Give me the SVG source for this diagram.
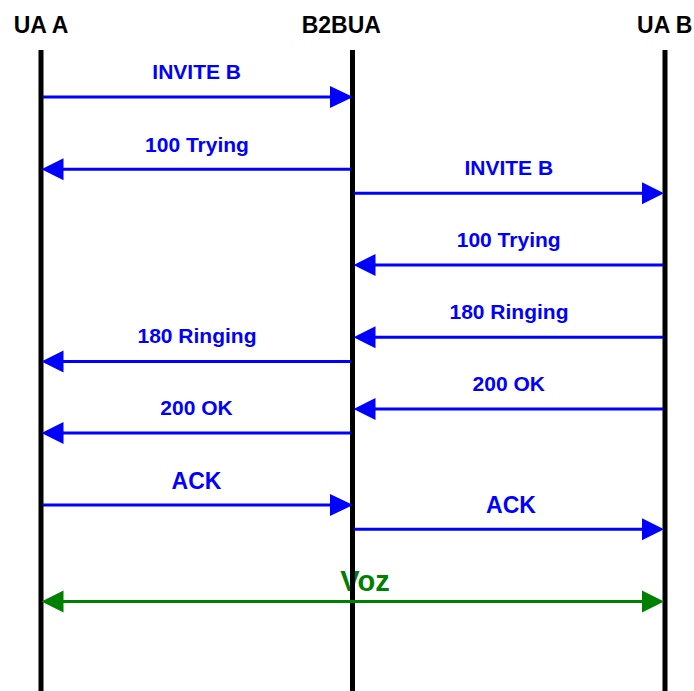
<svg xmlns="http://www.w3.org/2000/svg" width="694" height="691" viewBox="0 0 694 691">
<style>
.hdr{font-family:"Liberation Sans",Arial,sans-serif;font-weight:bold;font-size:23px;fill:#000;text-anchor:middle}
.life{stroke:#000;stroke-width:5}
.msg{stroke:#0000FF;stroke-width:3;fill:none}
.head{fill:#0000FF}
.lbl{font-family:"Liberation Sans",Arial,sans-serif;font-weight:bold;font-size:21px;fill:#0000FF;text-anchor:middle}
.ack{font-size:23px}
.voz{stroke:#008000;stroke-width:3;fill:none}
.vhead{fill:#008000}
.vlbl{font-family:"Liberation Sans",Arial,sans-serif;font-weight:bold;font-size:29px;fill:#008000;text-anchor:middle}
</style>
<rect width="694" height="691" fill="#fff"/>
<g id="labels">
<text class="lbl" x="196.7" y="79.3">INVITE B</text>
<text class="lbl" x="197" y="151.7">100 Trying</text>
<text class="lbl" x="508.8" y="175">INVITE B</text>
<text class="lbl" x="508.7" y="246.7">100 Trying</text>
<text class="lbl" x="509" y="319.3">180 Ringing</text>
<text class="lbl" x="197" y="343.3">180 Ringing</text>
<text class="lbl" x="508.8" y="390.7">200 OK</text>
<text class="lbl" x="196.5" y="415">200 OK</text>
<text class="lbl ack" x="196.5" y="489">ACK</text>
<text class="lbl ack" x="511" y="512.7">ACK</text>
<text class="vlbl" x="365" y="590.7">Voz</text>
</g>
<g id="uaA">
<line class="life" x1="41" y1="50" x2="41" y2="691"/>
<text class="hdr" x="41" y="33">UA A</text>
</g>
<g id="b2bua">
<line class="life" x1="352.5" y1="50" x2="352.5" y2="691"/>
<text class="hdr" x="341.3" y="33">B2BUA</text>
</g>
<g id="uaB">
<line class="life" x1="665" y1="50" x2="665" y2="691"/>
<text class="hdr" x="664.8" y="33">UA B</text>
</g>
<g id="connectors">
<line class="msg" x1="43" y1="97" x2="332" y2="97"/>
<polygon class="head" points="330,86 353,97 330,108"/>
<line class="msg" x1="351" y1="169.3" x2="62" y2="169.3"/>
<polygon class="head" points="63.5,158.3 41.5,169.3 63.5,180.3"/>
<line class="msg" x1="354" y1="193.3" x2="644" y2="193.3"/>
<polygon class="head" points="642,182.3 664,193.3 642,204.3"/>
<line class="msg" x1="663" y1="265" x2="374" y2="265"/>
<polygon class="head" points="375.5,254 353.5,265 375.5,276"/>
<line class="msg" x1="663" y1="337.3" x2="374" y2="337.3"/>
<polygon class="head" points="375.5,326.3 353.5,337.3 375.5,348.3"/>
<line class="msg" x1="351" y1="361.5" x2="62" y2="361.5"/>
<polygon class="head" points="63.5,350.5 41.5,361.5 63.5,372.5"/>
<line class="msg" x1="663" y1="409" x2="374" y2="409"/>
<polygon class="head" points="375.5,398 353.5,409 375.5,420"/>
<line class="msg" x1="351" y1="433" x2="62" y2="433"/>
<polygon class="head" points="63.5,422 41.5,433 63.5,444"/>
<line class="msg" x1="43" y1="505" x2="332" y2="505"/>
<polygon class="head" points="330,494 353,505 330,516"/>
<line class="msg" x1="354" y1="529.3" x2="644" y2="529.3"/>
<polygon class="head" points="642,518.3 664,529.3 642,540.3"/>
<line class="voz" x1="62" y1="601.5" x2="644" y2="601.5"/>
<polygon class="vhead" points="63.5,590.5 41.5,601.5 63.5,612.5"/>
<polygon class="vhead" points="642,590.5 664,601.5 642,612.5"/>
</g>
</svg>
